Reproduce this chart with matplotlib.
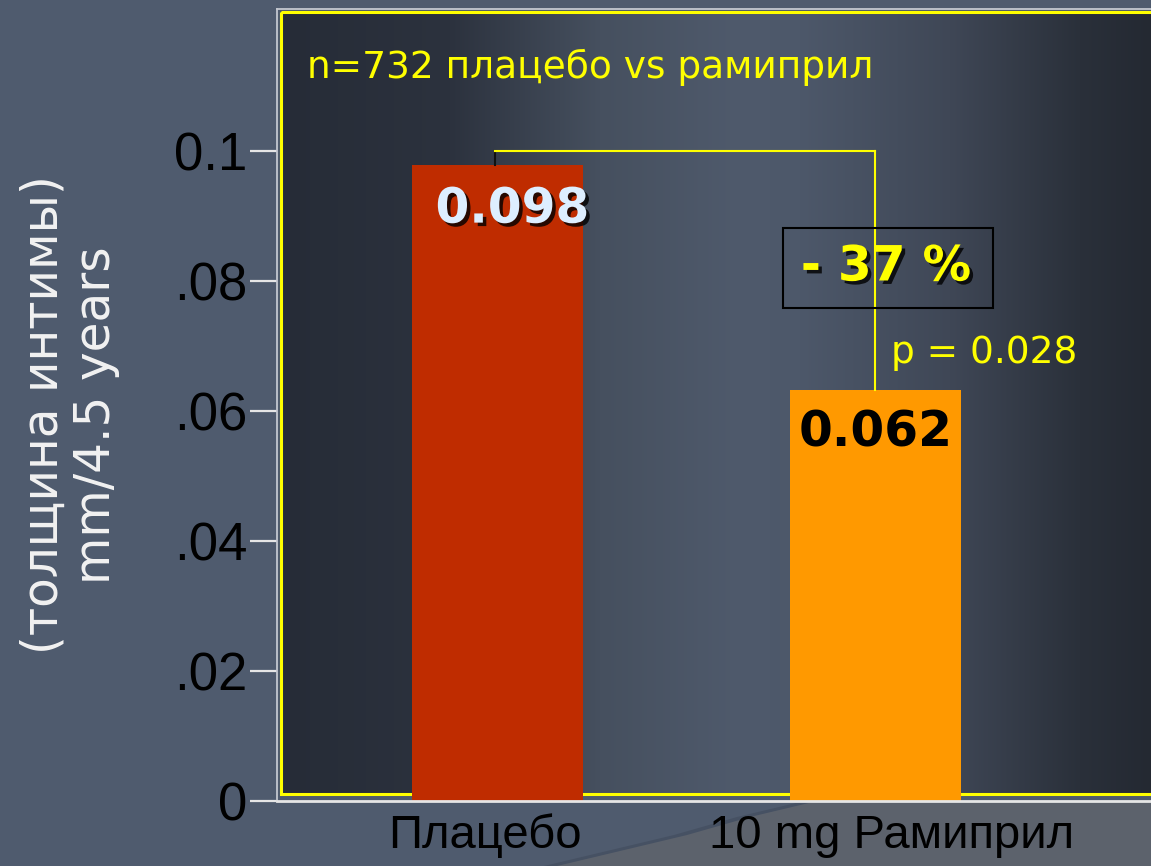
import numpy as np
import matplotlib
matplotlib.use("Agg")
import matplotlib.pyplot as plt
from matplotlib.patches import Rectangle, Polygon
from matplotlib.colors import to_rgb
from matplotlib import patheffects as pe
from matplotlib.transforms import ScaledTranslation

# ---- data ----
categories = ["Плацебо", "10 mg Рамиприл"]
values = [0.0978, 0.0632]
value_labels = ["0.098", "0.062"]
ytick_values = [0, 0.02, 0.04, 0.06, 0.08, 0.1]
ytick_labels = ["0", ".02", ".04", ".06", ".08", "0.1"]
title_text = "n=732 плацебо vs рамиприл"
diff_text = "- 37 %"
p_text = "p = 0.028"
ylabel_text = "(толщина интимы)\nmm/4.5 years"

W, H = 1151, 866
fig = plt.figure(figsize=(W / 100, H / 100), dpi=100)
fig.patch.set_facecolor("#4f5b6e")

# background decoration axes in pixel coordinates
bg = fig.add_axes([0, 0, 1, 1], zorder=0)
bg.axis("off")
# shadow band along the curve, then lighter region
bg.add_patch(Polygon([(800, 802), (737, 817), (674, 835), (607, 851), (544, 866),
                      (W, 866), (W, 802)], closed=True, facecolor="#465163",
                     edgecolor="none", zorder=1))
bg.add_patch(Polygon([(813, 802), (750, 817), (687, 835), (620, 851), (557, 866),
                      (W, 866), (W, 802)], closed=True, facecolor="#5c626c",
                     edgecolor="none", zorder=1.1))
stops = [(281, "#262c37"), (450, "#2c323e"), (600, "#46505f"), (740, "#4f5a6c"),
         (800, "#4d586a"), (950, "#3f4756"), (1080, "#2a303a"), (1151, "#242932")]
xs = np.arange(281, W + 1)
sp = np.array([s[0] for s in stops])
cols = np.array([to_rgb(s[1]) for s in stops])
grad = np.stack([np.interp(xs, sp, cols[:, i]) for i in range(3)], axis=-1)[None, :, :]
bg.imshow(grad, extent=[281, W + 1, 794, 12], aspect="auto", zorder=1.2)
bg.add_patch(Rectangle((281, 12), W + 20 - 281, 794 - 12, fill=False,
                       edgecolor="#ffff00", linewidth=2.2, zorder=2))
bg.set_xlim(0, W)
bg.set_ylim(H, 0)

# main axes
ax_left, ax_bottom_px, ax_top_px = 277, 801, 9
ax = fig.add_axes([ax_left / W, (H - ax_bottom_px) / H, (W - ax_left) / W,
                   (ax_bottom_px - ax_top_px) / H], zorder=1)
ax.patch.set_alpha(0)
ax.set_xlim(-0.583, 1.729)
ax.set_ylim(0, 0.1218)

x = np.arange(len(categories))
bar_colors = ["#bf2c00", "#ff9900"]
ax.bar(x, values, width=0.452, color=bar_colors, zorder=3)

# spines
ax.spines["right"].set_visible(False)
ax.spines["left"].set_color("#c4c8d0")
ax.spines["left"].set_linewidth(1.3)
ax.spines["top"].set_color("#c4c8d0")
ax.spines["top"].set_linewidth(1.3)
ax.spines["bottom"].set_color("#e6e6e6")
ax.spines["bottom"].set_linewidth(2)
ax.spines["bottom"].set_zorder(4)

ax.set_yticks(ytick_values)
ax.set_yticklabels(ytick_labels, fontfamily="Liberation Sans", fontsize=38, color="black")
ax.tick_params(axis="y", direction="out", length=19.5, width=1.6, color="#e6e6e6", pad=2)
ax.set_xticks(x)
ax.set_xticklabels(categories, fontfamily="Liberation Sans", fontsize=34, color="black")
ax.tick_params(axis="x", length=0, pad=9)
offsets = [-12, 16]
for lab, off in zip(ax.get_xticklabels(), offsets):
    lab.set_transform(lab.get_transform() + ScaledTranslation(off / 100, 0, fig.dpi_scale_trans))

# value labels
shadow = [pe.withSimplePatchShadow(offset=(2.5, -2.5), shadow_rgbFace="black", alpha=0.8)]
ax.text(x[0] + 0.04, 0.0911, value_labels[0], ha="center", va="center", fontsize=35,
        fontweight="bold", color="#ddeeff", path_effects=shadow, zorder=5)
ax.text(x[1], 0.0566, value_labels[1], ha="center", va="center", fontsize=35,
        fontweight="bold", color="black", zorder=5)

# bracket
ax.plot([x[0] - 0.005, x[0] - 0.005], [values[0], 0.1], color="#111111", lw=1.5, zorder=4)
ax.plot([x[0] - 0.005, x[1]], [0.1, 0.1], color="#ffff00", lw=1.5, zorder=4)
ax.plot([x[1], x[1]], [0.1, values[1]], color="#ffff00", lw=1.5, zorder=4)

# difference box
ax.add_patch(Rectangle((0.755, 0.07585), 1.311 - 0.755, 0.08815 - 0.07585, fill=False,
                       edgecolor="black", linewidth=1.5, zorder=4))
ax.text(1.028, 0.0822, diff_text, ha="center", va="center", fontsize=35,
        fontweight="bold", color="#ffff00", path_effects=shadow, zorder=5)
ax.text(1.04, 0.0689, p_text, ha="left", va="center", fontsize=27, color="#ffff00", zorder=5)

# title inside box
fig.text(307 / W, 1 - 67 / H, title_text, ha="left", va="center", fontsize=27,
         color="#ffff00")

# y label
fig.text(70 / W, 1 - 415 / H, ylabel_text, ha="center", va="center", rotation=90,
         fontsize=35, color="#f2f2f2", linespacing=1.12, multialignment="center")

fig.savefig("out.png", dpi=100, facecolor=fig.get_facecolor())
